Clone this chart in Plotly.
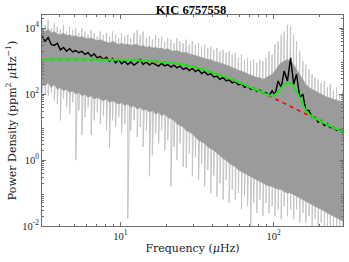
import plotly.graph_objects as go

# ---------------- data ----------------
freq = [3.09, 3.24, 3.39, 3.55, 3.72, 3.89, 4.07, 4.27, 4.47, 4.68,
        4.90, 5.13, 5.37, 5.62, 5.89, 6.17, 6.46, 6.76, 7.08, 7.41,
        7.76, 8.13, 8.51, 8.91, 9.33, 9.77, 10.2, 10.7, 11.2, 11.7,
        12.3, 12.9, 13.5, 14.1, 14.8, 15.5, 16.2, 17.0, 17.8, 18.6,
        19.5, 20.4, 21.4, 22.4, 23.4, 24.5, 25.7, 26.9, 28.2, 29.5,
        30.9, 32.4, 33.9, 35.5, 37.2, 38.9, 40.7, 42.7, 44.7, 46.8,
        49.0, 51.3, 53.7, 56.2, 58.9, 61.7, 64.6, 67.6, 70.8, 74.1,
        77.6, 81.3, 85.1, 89.1, 93.3, 97.7, 102, 107, 112, 117,
        123, 129, 135, 141, 148, 155, 162, 170, 178, 186,
        195, 204, 214, 224, 234, 245, 257, 269, 282]

# raw spectrum: tips of the spikes above and below the dense band
spec_peak = [20000, 12600, 17800, 10000, 14100, 11200, 8900, 12600, 7900, 11200,
             8900, 10000, 7100, 10000, 7900, 6300, 8900, 7100, 5600, 7900,
             6300, 7100, 5600, 7900, 6300, 5000, 7100, 5600, 6300, 5000,
             7100, 8900, 6300, 7900, 5000, 5600, 4500, 6300, 5000, 5600,
             4000, 5000, 4500, 3500, 5000, 4000, 3500, 4500, 3200, 4000,
             3200, 3500, 2800, 3200, 2500, 2800, 2200, 2500, 2000, 2200,
             1800, 2000, 1600, 1800, 1260, 1600, 1120, 1260, 1000, 1120,
             890, 1120, 1000, 1260, 2000, 1600, 3200, 4000, 6300, 7900,
             12600, 11200, 6300, 4000, 2000, 1000, 790, 560, 400, 320,
             280, 220, 250, 160, 200, 126, 160, 100, 126]
spec_dip = [79, 100, 89, 112, 63, 50, 16, 71, 40, 25,
            56, 1.0, 32, 5.8, 20, 40, 5.8, 16, 28, 12.6,
            22, 7.9, 2.3, 16, 10, 20, 6.3, 12.6, 0.017, 7.9,
            16, 5.0, 10, 2.5, 7.9, 0.32, 1.4, 6.3, 3.2, 7.9,
            2.0, 4.0, 0.16, 2.5, 1.0, 3.2, 0.63, 0.58, 1.6, 0.32,
            1.26, 0.25, 0.79, 0.16, 0.5, 0.1, 0.32, 0.079, 0.2, 0.063,
            0.25, 0.05, 0.126, 0.063, 0.1, 0.032, 0.079, 0.04, 0.008, 0.05,
            0.025, 0.063, 0.02, 0.05, 0.025, 0.04, 0.02, 0.032, 0.016, 0.04,
            0.02, 0.032, 0.016, 0.032, 0.0126, 0.025, 0.0126, 0.02, 0.008, 0.016,
            0.008, 0.0126, 0.008, 0.008, 0.008, 0.008, 0.008, 0.008, 0.008]
# dense part of the raw spectrum (upper / lower edge)
band_top = [8900, 7900, 9500, 7100, 7900, 6600, 6300, 7100, 6000, 6300,
            5600, 6000, 5200, 5600, 5000, 4800, 5000, 4500, 4200, 4500,
            4000, 3800, 3500, 4000, 3500, 3200, 3500, 3200, 3300, 3000,
            3200, 3200, 2800, 3000, 2600, 2800, 2500, 2600, 2400, 2500,
            2200, 2400, 2100, 2000, 2100, 1900, 1800, 1850, 1660, 1600,
            1500, 1400, 1320, 1260, 1120, 1120, 1000, 950, 890, 790,
            760, 710, 630, 600, 520, 500, 450, 420, 380, 350,
            320, 320, 280, 320, 350, 400, 500, 710, 890, 1000,
            1120, 1000, 790, 560, 400, 280, 200, 160, 140, 126,
            112, 100, 89, 79, 76, 71, 63, 60, 56]
band_bot = [200, 178, 224, 158, 200, 141, 158, 126, 141, 112,
            126, 100, 112, 89, 100, 79, 89, 71, 79, 71,
            63, 71, 56, 63, 56, 50, 56, 45, 50, 40,
            45, 35, 40, 32, 35, 28, 32, 25, 28, 22,
            25, 20, 18, 16, 12.6, 11.2, 10, 7.9, 7.1, 6.3,
            5.0, 4.0, 3.5, 3.2, 2.5, 2.2, 2.0, 1.6, 1.4, 1.1,
            1.0, 0.79, 0.71, 0.63, 0.5, 0.45, 0.4, 0.35, 0.32, 0.28,
            0.25, 0.22, 0.2, 0.18, 0.16, 0.16, 0.14, 0.13, 0.13, 0.11,
            0.1, 0.1, 0.089, 0.079, 0.071, 0.063, 0.056, 0.05, 0.045, 0.04,
            0.035, 0.032, 0.028, 0.025, 0.022, 0.02, 0.018, 0.016, 0.014]
# smoothed spectrum (black)
smoothed = [5600, 4000, 5200, 3200, 3000, 3500, 2200, 2600, 2000, 2400,
            1900, 2100, 1800, 2000, 1600, 1820, 1400, 1660, 1260, 1400,
            1120, 1320, 1000, 1200, 890, 1120, 830, 1000, 790, 950,
            760, 890, 1120, 790, 950, 760, 890, 790, 710, 850,
            720, 790, 660, 760, 630, 710, 560, 630, 520, 600,
            480, 550, 420, 480, 380, 420, 330, 350, 280, 320,
            250, 270, 220, 240, 190, 210, 160, 178, 141, 151,
            120, 132, 105, 112, 89, 126, 95, 250, 158, 500,
            250, 1260, 200, 400, 79, 100, 32, 32, 20, 20,
            14, 16, 11.2, 12.6, 9.5, 10, 7.9, 8.3, 7.1]

# fitted model (green) and background (red dashed)
fit_freq = [3.09, 4.07, 5.5, 7.4, 10, 13.5, 16.9, 21.1, 26.4, 33.0,
            41.4, 51.8, 55.8, 64.8, 75.3, 83.6, 88.7, 94.2, 100, 106.2,
            112.7, 117.9, 123.3, 128.9, 134.9, 141, 147.6, 154.3, 161.4, 171.3,
            187.5, 211, 241.7, 283]
fit_total = [1120, 1120, 1120, 1110, 1100, 1050, 980, 890, 760, 600,
             420, 295, 257, 190, 141, 115, 101, 91, 91, 113,
             161, 199, 220, 210, 171, 122, 78, 49, 33, 23.6,
             18, 13.7, 10, 7.0]
fit_background = [1120, 1120, 1120, 1110, 1100, 1050, 980, 890, 760, 600,
                  420, 295, 257, 190, 141, 115, 100, 87, 76, 66,
                  58, 52, 47, 42, 38, 34.5, 31, 28, 25.4, 22.1,
                  18, 13.7, 10, 7.0]

y_tick_vals = [1e-2, 1e0, 1e2, 1e4]
y_tick_text = ["10<sup>-2</sup>", "10<sup>0</sup>", "10<sup>2</sup>", "10<sup>4</sup>"]
x_tick_vals = [10, 100]
x_tick_text = ["10<sup>1</sup>", "10<sup>2</sup>"]

# ---------------- figure ----------------
# spikes of the raw spectrum: one stroke per frequency, from its peak down to its dip
spike_x, spike_y = [], []
for f, hi, lo in zip(freq, spec_peak, spec_dip):
    spike_x += [f, f]
    spike_y += [hi, lo]

fig = go.Figure()
fig.add_trace(go.Scatter(x=spike_x, y=spike_y, mode="lines",
                         line=dict(color="#c4c4c4", width=1), hoverinfo="skip"))
fig.add_trace(go.Scatter(x=freq + freq[::-1], y=band_top + band_bot[::-1],
                         mode="lines", fill="toself", fillcolor="#9b9b9b",
                         line=dict(color="#9b9b9b", width=0.5), hoverinfo="skip"))
fig.add_trace(go.Scatter(x=freq, y=smoothed, mode="lines",
                         line=dict(color="black", width=1.4)))
fig.add_trace(go.Scatter(x=fit_freq, y=fit_background, mode="lines",
                         line=dict(color="#ff0000", width=1.6, dash="4px,4px", shape="spline")))
fig.add_trace(go.Scatter(x=fit_freq, y=fit_total, mode="lines",
                         line=dict(color="#1ee61e", width=2, shape="spline")))

serif = "Liberation Serif, Times New Roman, serif"
wide_serif = "DejaVu Serif, serif"
axis_col = "#6e6e6e"


def minor_vals(lo, hi):
    return [m * 10 ** k for k in range(lo, hi) for m in range(2, 10)]


fig.update_layout(
    width=349, height=262,
    margin=dict(l=42, r=6, t=15, b=36),
    paper_bgcolor="white", plot_bgcolor="white",
    showlegend=False,
    font=dict(family=serif, size=10.5, color="#222"),
    title=dict(text="<b>KIC 6757558</b>", x=0.547, xanchor="center",
               y=1 - 10 / 262, yanchor="middle",
               font=dict(family=serif, size=12.5, color="black")),
    xaxis=dict(type="log", range=[0.49, 2.452],
               tickvals=x_tick_vals, ticktext=x_tick_text,
               ticks="inside", ticklen=4, tickcolor=axis_col,
               showline=True, linecolor=axis_col, linewidth=1, mirror="allticks",
               showgrid=False, zeroline=False, automargin=False,
               minor=dict(tickvals=minor_vals(0, 3), ticks="inside", ticklen=2,
                          tickcolor=axis_col, showgrid=False),
               title=dict(text="Frequency (<i>μ</i>Hz)", standoff=3,
                          font=dict(family=wide_serif, size=11, color="#222")),
               tickfont=dict(size=10.5)),
    yaxis=dict(type="log", range=[-2, 4.4],
               tickvals=y_tick_vals, ticktext=y_tick_text,
               ticks="inside", ticklen=4, tickcolor=axis_col,
               showline=True, linecolor=axis_col, linewidth=1, mirror="allticks",
               showgrid=False, zeroline=False, automargin=False,
               minor=dict(tickvals=minor_vals(-2, 5), ticks="inside", ticklen=2,
                          tickcolor=axis_col, showgrid=False),
               title=dict(text="Power Density (ppm<sup>2</sup> <i>μ</i>Hz<sup>−1</sup>)", standoff=3,
                          font=dict(family=wide_serif, size=11, color="#222")),
               tickfont=dict(size=10.5)),
)

fig.write_html("out.html", config={"displayModeBar": False},
               post_script="document.body.style.margin='0';document.body.style.padding='0';")
